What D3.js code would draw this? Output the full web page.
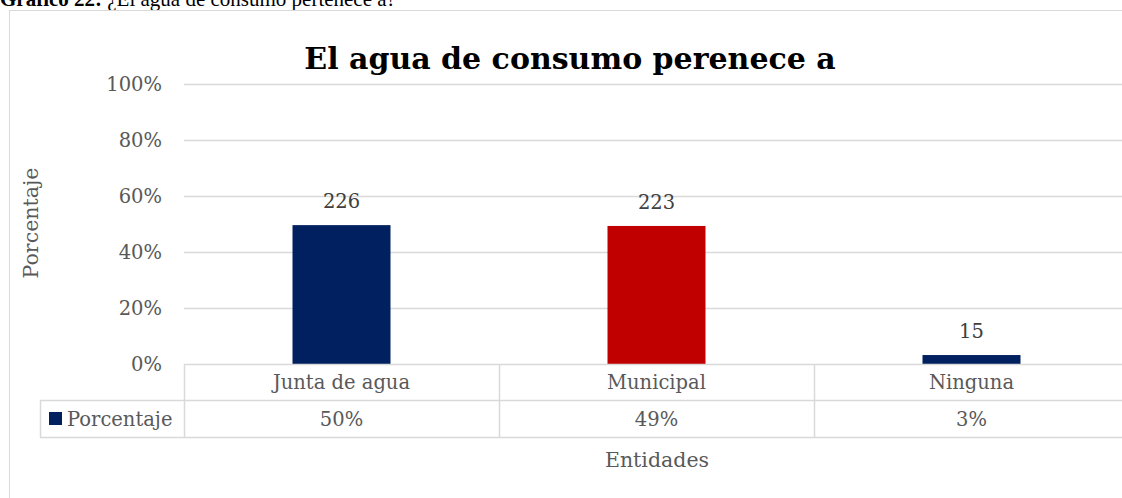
<!DOCTYPE html>
<html>
<head>
<meta charset="utf-8">
<script src="https://cdn.jsdelivr.net/npm/d3@7"></script>
<style>
  body { margin: 0; background: #fff; }
  svg { display: block; }
</style>
</head>
<body>
<div id="chart"></div>
<script>
// datos
var categorias = ["Junta de agua", "Municipal", "Ninguna"]
var porcentajes = [0.496, 0.493, 0.032]
var conteos = [226, 223, 15]
var tablaTexto = ["50%", "49%", "3%"]
var yTicks = [0, 0.2, 0.4, 0.6, 0.8, 1.0]

var SERIE = "Porcentaje"
var COLORES = ["#002060", "#c00000", "#002060"]
var GRID = "#d9d9d9"
var FONT = "'DejaVu Serif', serif"
var FS = "19.5px"

var W = 1122, H = 498
var svg = d3.select("#chart").append("svg").attr("width", W).attr("height", H)

// titulo del documento (cortado arriba, como en la imagen)
var cap = svg.append("text").attr("x", 0).attr("y", 6)
    .style("font-family", "'Liberation Serif', serif").style("font-size", "21px").attr("fill", "#000")
cap.append("tspan").style("font-weight", "bold").text("Gráfico 22:")
cap.append("tspan").text(" ¿El agua de consumo pertenece a?")

// marco del grafico
svg.append("rect").attr("x", 9.5).attr("y", 10.5).attr("width", 1140).attr("height", 500)
    .attr("fill", "none").attr("stroke", GRID)

var x = d3.scaleBand().domain(categorias).range([184, 1129])
var y = d3.scaleLinear().domain([0, 1]).range([364, 84])

// rejilla
svg.append("g").selectAll("line").data(yTicks.filter(d => d > 0)).join("line")
    .attr("x1", 184).attr("x2", 1129)
    .attr("y1", d => Math.round(y(d)) + 0.5).attr("y2", d => Math.round(y(d)) + 0.5)
    .attr("stroke", GRID).attr("stroke-width", 1.5)

// etiquetas eje y
svg.append("g").selectAll("text").data(yTicks).join("text")
    .attr("x", 162).attr("y", d => y(d)).attr("dy", "0.35em")
    .attr("text-anchor", "end")
    .style("font-family", FONT).style("font-size", FS).attr("fill", "#595959")
    .text(d => d3.format(".0%")(d))

// barras
var bw = 98
svg.append("g").selectAll("rect").data(categorias).join("rect")
    .attr("x", d => x(d) + x.bandwidth() / 2 - bw / 2)
    .attr("y", (d, i) => y(porcentajes[i]))
    .attr("width", bw)
    .attr("height", (d, i) => y(0) - y(porcentajes[i]))
    .attr("fill", (d, i) => COLORES[i])

// etiquetas de datos
svg.append("g").selectAll("text").data(categorias).join("text")
    .attr("x", d => x(d) + x.bandwidth() / 2)
    .attr("y", (d, i) => y(porcentajes[i]) - 17)
    .attr("text-anchor", "middle")
    .style("font-family", FONT).style("font-size", FS).attr("fill", "#404040")
    .text((d, i) => conteos[i])

// tabla de datos
var r0 = 364.5, r1 = 400.5, r2 = 437.5
var tabla = svg.append("g").attr("stroke", GRID).attr("stroke-width", 1.5)
tabla.append("line").attr("x1", 184).attr("x2", 1129).attr("y1", r0).attr("y2", r0)
tabla.append("line").attr("x1", 40).attr("x2", 1129).attr("y1", r1).attr("y2", r1)
tabla.append("line").attr("x1", 40).attr("x2", 1129).attr("y1", r2).attr("y2", r2)
tabla.append("line").attr("x1", 40.5).attr("x2", 40.5).attr("y1", r1).attr("y2", r2)
tabla.selectAll("line.col").data(categorias).join("line").attr("class", "col")
    .attr("x1", d => Math.round(x(d)) + 0.5).attr("x2", d => Math.round(x(d)) + 0.5)
    .attr("y1", r0).attr("y2", r2)

svg.append("g").selectAll("text").data(categorias).join("text")
    .attr("x", d => x(d) + x.bandwidth() / 2).attr("y", (r0 + r1) / 2).attr("dy", "0.35em")
    .attr("text-anchor", "middle")
    .style("font-family", FONT).style("font-size", FS).attr("fill", "#595959")
    .text(d => d)

svg.append("g").selectAll("text").data(categorias).join("text")
    .attr("x", d => x(d) + x.bandwidth() / 2).attr("y", (r1 + r2) / 2).attr("dy", "0.35em")
    .attr("text-anchor", "middle")
    .style("font-family", FONT).style("font-size", FS).attr("fill", "#595959")
    .text((d, i) => tablaTexto[i])

// leyenda en la tabla
svg.append("rect").attr("x", 49).attr("y", 412).attr("width", 13).attr("height", 13).attr("fill", COLORES[0])
svg.append("text").attr("x", 67).attr("y", (r1 + r2) / 2).attr("dy", "0.35em")
    .style("font-family", FONT).style("font-size", FS).attr("fill", "#595959")
    .text(SERIE)

// titulos de ejes
svg.append("text").attr("x", 657).attr("y", 467).attr("text-anchor", "middle")
    .style("font-family", FONT).style("font-size", "20.5px").attr("fill", "#595959")
    .text("Entidades")
svg.append("text").attr("transform", "translate(38,223) rotate(-90)").attr("text-anchor", "middle")
    .style("font-family", FONT).style("font-size", "20.5px").attr("fill", "#595959")
    .text("Porcentaje")

// titulo
svg.append("text").attr("x", 570).attr("y", 69).attr("text-anchor", "middle")
    .style("font-family", FONT).style("font-size", "30px").style("font-weight", "bold").attr("fill", "#000")
    .text("El agua de consumo perenece a")
</script>
</body>
</html>
